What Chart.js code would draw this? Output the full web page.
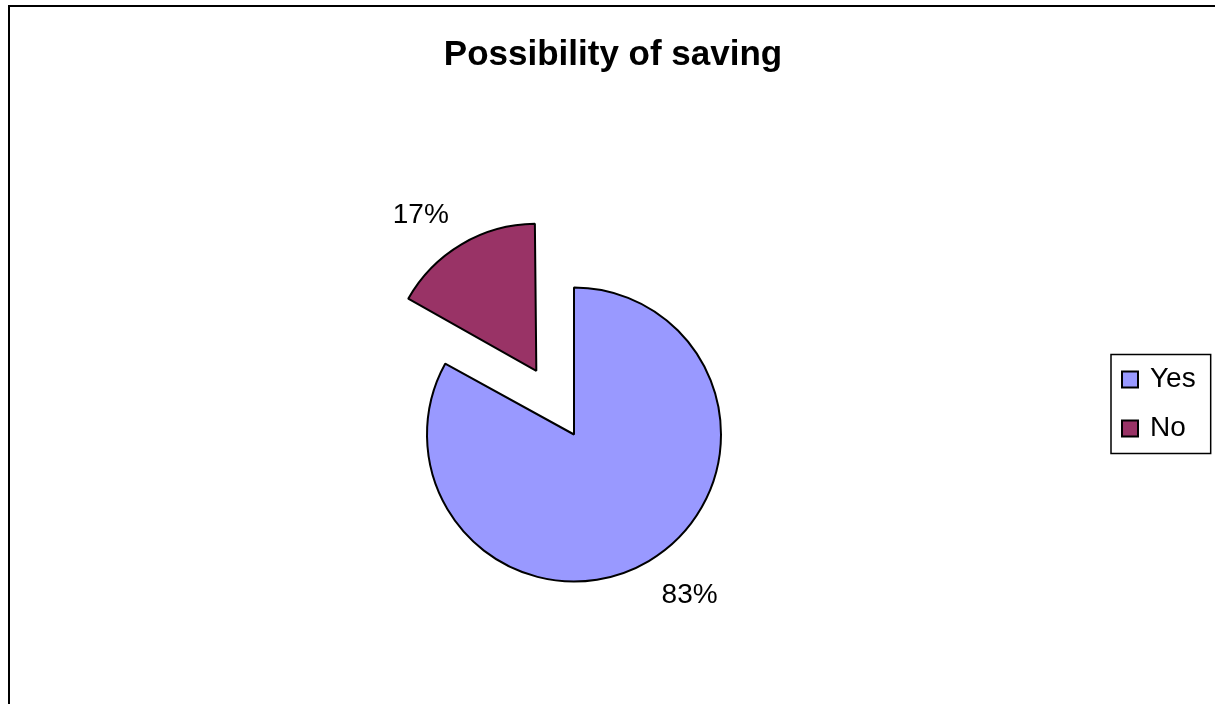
<!DOCTYPE html>
<html>
<head>
<meta charset="utf-8">
<title>Possibility of saving</title>
<script src="https://cdn.jsdelivr.net/npm/chart.js@4.4.1/dist/chart.umd.min.js"></script>
<style>
  html, body { margin: 0; padding: 0; background: #fff; overflow: hidden; }
  canvas { display: block; }
</style>
</head>
<body>
<canvas id="saving-chart" width="1215" height="704"></canvas>
<script>
const categories = ['Yes', 'No'];
const shares = [83, 17];
const sliceColors = ['#9999FF', '#993366'];

const FONT = "Arial, 'Liberation Sans', Helvetica, sans-serif";
const LEGEND_WIDTH = 78;      // room kept free right of the pie
const LEGEND_CENTER_Y = 404;  // legend sits a little above the pie centre
const LEGEND_FONT = 28;
const LEGEND_ROW = 49;

// Chart.js pushes an arc out along its middle angle by a quarter of its offset
function arcShift(arc) {
    return (arc.options.offset || 0) / 4;
}

// white page with the outer frame (only the top and left edges are in view)
const pageFrame = {
    id: 'pageFrame',
    beforeDraw(chart) {
        const ctx = chart.ctx;
        ctx.save();
        ctx.fillStyle = '#fff';
        ctx.fillRect(0, 0, chart.width, chart.height);
        ctx.strokeStyle = '#000';
        ctx.lineWidth = 2;
        ctx.strokeRect(9, 6, chart.width + 20, chart.height + 20);
        ctx.restore();
    }
};

// a pulled-out thin slice is also drawn wider by Chart.js; take that back off
// so the exploded slice keeps the same radius as the rest of the pie
const sameRadius = {
    id: 'sameRadius',
    afterDatasetUpdate(chart, args) {
        args.meta.data.forEach(arc => {
            const shift = arcShift(arc);
            if (!shift) return;
            const circ = arc.endAngle - arc.startAngle;
            arc.outerRadius -= shift * (1 - Math.sin(Math.min(Math.PI, circ)));
        });
    }
};

// percentage next to each slice, outside the rim
const percentLabels = {
    id: 'percentLabels',
    afterDatasetsDraw(chart) {
        const ctx = chart.ctx;
        const meta = chart.getDatasetMeta(0);
        const radius = meta.controller.outerRadius;
        const values = chart.data.datasets[0].data;
        const total = values.reduce((a, b) => a + b, 0);
        const size = 28;
        const capHeight = size * 0.72;
        ctx.save();
        ctx.font = size + 'px ' + FONT;
        ctx.fillStyle = '#000';
        ctx.textBaseline = 'alphabetic';
        meta.data.forEach((arc, i) => {
            const mid = (arc.startAngle + arc.endAngle) / 2;
            const dx = Math.cos(mid);
            const dy = Math.sin(mid);
            const reach = radius + arcShift(arc) + 25;
            const x = arc.x + dx * reach;
            const y = arc.y + dy * reach;
            const text = Math.round(values[i] / total * 100) + '%';
            ctx.textAlign = dx >= 0 ? 'left' : 'right';
            ctx.fillText(text, x, dy >= 0 ? y + capHeight : y);
        });
        ctx.restore();
    }
};

// boxed legend on the right; a layout box keeps its column out of the plot area
const sideLegend = {
    id: 'sideLegend',
    beforeInit(chart) {
        const slot = {
            position: 'right',
            weight: 1000,
            fullSize: false,
            options: {},
            top: 0, left: 0, right: 0, bottom: 0, width: 0, height: 0,
            isHorizontal: () => false,
            update(maxWidth, maxHeight) {
                slot.width = LEGEND_WIDTH;
                slot.height = maxHeight;
            },
            draw() {}
        };
        chart.$legendSlot = slot;
        Chart.layouts.addBox(chart, slot);
    },
    afterDraw(chart) {
        const slot = chart.$legendSlot;
        const ctx = chart.ctx;
        const ds = chart.data.datasets[0];
        const labels = chart.data.labels;
        const boxSize = 16;
        const pad = 11;
        const x0 = slot.left + 21;
        const textX = x0 + boxSize + 12;
        const firstY = LEGEND_CENTER_Y - LEGEND_ROW * (labels.length - 1) / 2;

        ctx.save();
        ctx.font = LEGEND_FONT + 'px ' + FONT;
        let textRight = textX;
        labels.forEach(l => {
            textRight = Math.max(textRight, textX + ctx.measureText(l).width);
        });

        const top = firstY - LEGEND_FONT / 2 - pad;
        const bottom = firstY + LEGEND_ROW * (labels.length - 1) + LEGEND_FONT / 2 + pad;
        ctx.strokeStyle = '#000';
        ctx.lineWidth = 1.5;
        ctx.strokeRect(x0 - pad, top, textRight + pad + 4 - (x0 - pad), bottom - top);

        labels.forEach((label, i) => {
            const cy = firstY + i * LEGEND_ROW;
            ctx.fillStyle = ds.backgroundColor[i];
            ctx.fillRect(x0, cy - boxSize / 2, boxSize, boxSize);
            ctx.lineWidth = 2;
            ctx.strokeStyle = ds.borderColor;
            ctx.strokeRect(x0, cy - boxSize / 2, boxSize, boxSize);
            ctx.fillStyle = '#000';
            ctx.textAlign = 'left';
            ctx.textBaseline = 'middle';
            ctx.fillText(label, textX, cy);
        });
        ctx.restore();
    }
};

new Chart(document.getElementById('saving-chart'), {
    type: 'pie',
    data: {
        labels: categories,
        datasets: [{
            data: shares,
            backgroundColor: sliceColors,
            borderColor: '#000',
            borderWidth: 2,
            radius: 147,
            offset: [0, 296]
        }]
    },
    options: {
        responsive: false,
        animation: false,
        events: [],
        layout: { padding: { left: 47, right: 36, top: 16, bottom: 0 } },
        plugins: {
            title: {
                display: true,
                text: 'Possibility of saving',
                color: '#000',
                font: { family: FONT, size: 35, weight: 'bold' },
                padding: { top: 18, bottom: 89 }
            },
            legend: { display: false },
            tooltip: { enabled: false }
        }
    },
    plugins: [pageFrame, sameRadius, percentLabels, sideLegend]
});
</script>
</body>
</html>
